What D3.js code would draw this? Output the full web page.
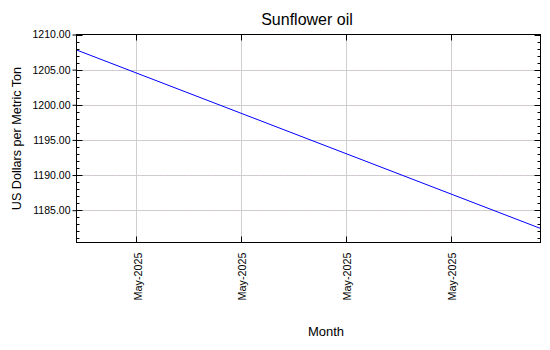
<!DOCTYPE html>
<html>
<head>
<meta charset="utf-8">
<script src="https://cdn.jsdelivr.net/npm/d3@7"></script>
<style>
  html, body { margin: 0; padding: 0; background: #fff; }
  text { font-family: "Liberation Sans", Arial, sans-serif; fill: #000; }
</style>
</head>
<body>
<svg id="chart" width="550" height="350"></svg>
<script>
// Sunflower oil price, US$ per metric ton
const dates = ["2025-05-01", "2025-06-01"];
const prices = [1207.8, 1182.4];
const yTicks = [1185, 1190, 1195, 1200, 1205, 1210];
const title = "Sunflower oil";
const yLabel = "US Dollars per Metric Ton";
const xLabel = "Month";

const parse = d3.timeParse("%Y-%m-%d");
const data = dates.map((d, i) => ({ date: parse(d), value: prices[i] }));

const svg = d3.select("#chart");
const plotL = 76.5, plotR = 540.5, plotT = 34.5, plotB = 242.5;

const x = d3.scaleTime()
  .domain(d3.extent(data, d => d.date))
  .range([plotL, plotR]);
const y = d3.scaleLinear()
  .domain([1180.4, 1210])
  .range([plotB, plotT]);

const xTicks = x.ticks(d3.timeMonday.every(1));
const minorY = d3.range(1181, 1211, 1).filter(v => !yTicks.includes(v));
const py = v => Math.round(y(v)) + 0.5;
const px = v => Math.round(x(v)) + 0.5;

// grid lines
const grid = svg.append("g");
const gridY = yTicks.filter(v => v < 1210);
grid.selectAll("line.gy").data(gridY).join("line")
  .attr("class", "gy")
  .attr("x1", plotL).attr("x2", plotR)
  .attr("y1", py).attr("y2", py)
  .attr("stroke", "#cfcfcf");
grid.selectAll("line.gy2").data(gridY).join("line")
  .attr("class", "gy2")
  .attr("x1", plotL).attr("x2", plotR)
  .attr("y1", py).attr("y2", py)
  .attr("stroke", "#d8b8d8").attr("stroke-dasharray", "1,5");
grid.selectAll("line.gx").data(xTicks).join("line")
  .attr("class", "gx")
  .attr("x1", px).attr("x2", px)
  .attr("y1", plotT).attr("y2", plotB)
  .attr("stroke", "#cfcfcf");

// data line
svg.append("path")
  .datum(data)
  .attr("fill", "none")
  .attr("stroke", "#0000ff")
  .attr("stroke-width", 1)
  .attr("d", d3.line().x(d => x(d.date)).y(d => y(d.value)));

// left axis with outward major ticks
const yAxis = svg.append("g")
  .attr("transform", `translate(${plotL},0)`)
  .call(d3.axisLeft(y).tickValues(yTicks).tickFormat(d3.format(".2f")).tickSize(4).tickPadding(2));
yAxis.select(".domain").remove();
yAxis.selectAll("text").style("font-size", "10.5px").style("font-family", "'Liberation Sans', Arial, sans-serif");
yAxis.selectAll("line").attr("stroke", "#000");

// minor and major ticks inside the frame
const ticks = svg.append("g").attr("stroke", "#000");
ticks.selectAll("line.ml").data(minorY).join("line")
  .attr("class", "ml")
  .attr("x1", plotL).attr("x2", plotL + 3)
  .attr("y1", py).attr("y2", py);
ticks.selectAll("line.mr").data(minorY).join("line")
  .attr("class", "mr")
  .attr("x1", plotR - 3).attr("x2", plotR)
  .attr("y1", py).attr("y2", py);
ticks.selectAll("line.Mr").data(yTicks).join("line")
  .attr("class", "Mr")
  .attr("x1", plotR - 6).attr("x2", plotR)
  .attr("y1", py).attr("y2", py);
ticks.selectAll("line.Ml").data(yTicks).join("line")
  .attr("class", "Ml")
  .attr("x1", plotL).attr("x2", plotL + 6)
  .attr("y1", py).attr("y2", py);
ticks.selectAll("line.xb").data(xTicks).join("line")
  .attr("class", "xb")
  .attr("x1", px).attr("x2", px)
  .attr("y1", plotB - 6).attr("y2", plotB);
ticks.selectAll("line.xt").data(xTicks).join("line")
  .attr("class", "xt")
  .attr("x1", px).attr("x2", px)
  .attr("y1", plotT).attr("y2", plotT + 6);

// bottom axis labels, rotated
const xAxis = svg.append("g")
  .attr("transform", `translate(0,${plotB})`)
  .call(d3.axisBottom(x).tickValues(xTicks).tickFormat(d3.timeFormat("%b-%Y")).tickSize(0));
xAxis.select(".domain").remove();
xAxis.selectAll("text")
  .style("font-size", "10.8px")
  .style("font-family", "'Liberation Sans', Arial, sans-serif")
  .attr("text-anchor", "end")
  .attr("dy", "0.35em")
  .attr("transform", "translate(1,10) rotate(-90)")
  .attr("x", 0).attr("y", 0);

// frame
svg.append("rect")
  .attr("x", plotL).attr("y", plotT)
  .attr("width", plotR - plotL).attr("height", plotB - plotT)
  .attr("fill", "none").attr("stroke", "#000").attr("stroke-width", 1);

// titles
svg.append("text")
  .attr("x", 307).attr("y", 25)
  .attr("text-anchor", "middle")
  .style("font-size", "16px")
  .text(title);
svg.append("text")
  .attr("x", 326).attr("y", 336)
  .attr("text-anchor", "middle")
  .style("font-size", "13px")
  .text(xLabel);
svg.append("text")
  .attr("transform", "translate(21,138.5) rotate(-90)")
  .attr("text-anchor", "middle")
  .style("font-size", "12.6px")
  .text(yLabel);
</script>
</body>
</html>
